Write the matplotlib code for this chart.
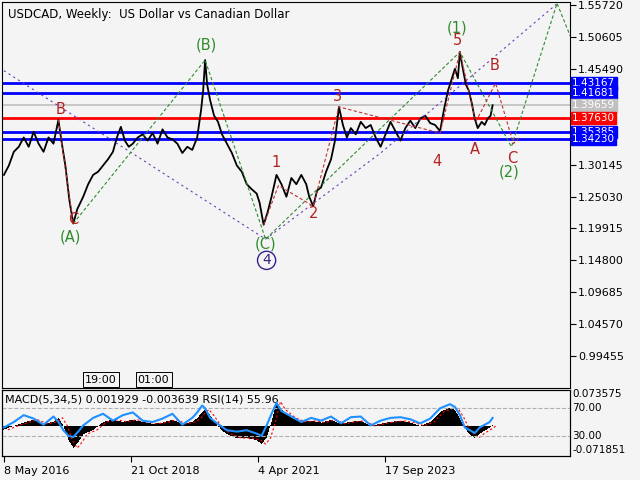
import matplotlib
matplotlib.use("Agg")
import matplotlib.pyplot as plt
import numpy as np

# price waypoints (week index from 8 May 2016, price)
px_weeks = [0,5,10,15,20,25,30,35,40,45,50,55,58,62,66,70,74,80,85,90,95,100,105,110,114,118,122,126,130,135,140,145,150,155,160,165,170,175,180,185,190,195,199,201,203,205,208,212,216,220,225,230,235,240,245,250,255,258,262,266,270,275,280,285,290,295,300,305,308,312,316,320,325,330,334,338,342,346,350,355,360,365,370,375,380,385,390,395,400,405,410,415,420,425,430,435,440,444,448,452,455,458,460,463,466,469,472,475,478,482,485,488,491,493]
px_vals = [1.285,1.300,1.322,1.330,1.345,1.330,1.354,1.335,1.322,1.345,1.335,1.373,1.340,1.300,1.245,1.207,1.230,1.250,1.270,1.285,1.290,1.300,1.310,1.322,1.345,1.362,1.340,1.330,1.335,1.345,1.350,1.340,1.352,1.335,1.358,1.345,1.342,1.335,1.320,1.330,1.325,1.345,1.390,1.420,1.469,1.430,1.405,1.380,1.370,1.350,1.335,1.320,1.300,1.290,1.270,1.262,1.255,1.240,1.205,1.225,1.250,1.285,1.270,1.250,1.280,1.270,1.285,1.270,1.250,1.235,1.260,1.265,1.290,1.310,1.340,1.394,1.365,1.345,1.360,1.350,1.370,1.360,1.365,1.345,1.330,1.350,1.370,1.355,1.340,1.360,1.372,1.360,1.375,1.380,1.368,1.365,1.355,1.390,1.420,1.440,1.455,1.440,1.482,1.455,1.430,1.420,1.400,1.375,1.360,1.370,1.365,1.375,1.380,1.3966]

h_levels = [1.43167, 1.41681, 1.39659, 1.37630, 1.35385, 1.34230]
h_colors = ["#0000ff", "#0000ff", "#c0c0c0", "#ff0000", "#0000ff", "#0000ff"]
y_ticks = [1.55720,1.50605,1.45490,1.30145,1.25030,1.19915,1.14800,1.09685,1.04570,0.99455]

green_x = [70,203,264,460,512,558,572]
green_y = [1.207,1.469,1.182,1.482,1.330,1.560,1.505]
red1_x = [55,70]; red1_y = [1.373,1.207]
red2_x = [262,277,312,338,440,460,476,496,514,520]
red2_y = [1.205,1.268,1.235,1.394,1.352,1.482,1.370,1.432,1.335,1.345]
purple_x = [0,264,380,560]
purple_y = [1.452,1.182,1.320,1.562]

wave_labels = [("(A)",67,1.185,"#2e8b2e"),("C",70,1.214,"#b22222"),("B",57,1.390,"#b22222"),
               ("(B)",204,1.493,"#2e8b2e"),("(C)",264,1.175,"#2e8b2e"),
               ("1",275,1.305,"#b22222"),("2",312,1.223,"#b22222"),("3",337,1.411,"#b22222"),
               ("4",437,1.306,"#b22222"),("5",458,1.500,"#b22222"),("(1)",457,1.521,"#2e8b2e"),
               ("A",475,1.325,"#b22222"),("B",495,1.460,"#b22222"),("C",513,1.312,"#b22222"),
               ("(2)",510,1.290,"#2e8b2e")]

ind_weeks = [0,10,20,30,40,50,55,60,65,70,75,80,90,100,110,120,130,140,150,160,170,180,190,195,200,203,208,215,225,235,245,255,260,265,270,275,280,290,300,310,320,330,340,350,360,370,380,390,400,410,420,430,440,450,455,460,465,470,475,480,485,490,493]
macd_vals = [-0.010,0.000,0.008,0.015,0.005,0.010,0.020,0.000,-0.035,-0.055,-0.040,-0.020,-0.010,0.010,0.015,0.010,0.015,0.010,0.005,0.008,0.015,0.005,0.010,0.020,0.035,0.040,0.025,0.000,-0.020,-0.030,-0.030,-0.035,-0.045,-0.030,0.010,0.060,0.040,0.020,0.010,0.012,0.008,0.015,0.005,0.010,0.012,0.000,0.005,0.010,0.012,0.008,0.000,0.010,0.035,0.045,0.040,0.020,-0.005,-0.020,-0.030,-0.020,-0.012,-0.005,0.002]
rsi_vals = [42,50,60,55,46,58,50,38,30,28,36,45,56,62,52,60,64,52,50,55,62,46,56,64,74,70,56,48,38,36,38,33,30,45,62,78,66,58,50,56,52,58,48,57,58,45,52,56,57,54,48,55,70,76,72,60,42,38,34,42,46,50,56]

date_ticks = [0,128,256,384]
date_labels = ["8 May 2016","21 Oct 2018","4 Apr 2021","17 Sep 2023"]

bg = "#f4f4f4"
fig = plt.figure(figsize=(6.4,4.8), dpi=100, facecolor=bg)
ax = fig.add_axes([0.003, 1-388/480, 568/640, 386/480], facecolor=bg)
xmax = 571
ax.set_xlim(-2, xmax)
ax.set_ylim(0.9434, 1.5621)
for lv, c in zip(h_levels, h_colors):
    ax.axhline(lv, color=c, lw=2 if c != "#c0c0c0" else 1.2, zorder=2)
ax.plot(px_weeks, px_vals, color="black", lw=1.3, zorder=3)
ax.plot(purple_x, purple_y, color="#6a3fb5", lw=0.8, ls=(0,(2,3)), zorder=4)
ax.plot(green_x, green_y, color="#2e8b2e", lw=0.8, ls=(0,(3,2)), zorder=4)
ax.plot(red1_x, red1_y, color="#c03030", lw=0.8, ls=(0,(3,2)), zorder=4)
ax.plot(red2_x, red2_y, color="#c03030", lw=0.8, ls=(0,(3,2)), zorder=4)
for t, x, y, c in wave_labels:
    ax.text(x, y, t, color=c, fontsize=10.5, ha="center", va="center", zorder=5)
ax.text(265, 1.148, "4", color="#3a1f8a", fontsize=10, ha="center", va="center",
        bbox=dict(boxstyle="circle,pad=0.15", fc="none", ec="#3a1f8a"))
ax.text(0.01, 0.985, "USDCAD, Weekly:  US Dollar vs Canadian Dollar", transform=ax.transAxes,
        fontsize=8.5, va="top", ha="left")
for t, x in [("19:00", 82), ("01:00", 135)]:
    ax.text(x, 0.957, t, fontsize=8, ha="left", va="center",
            bbox=dict(boxstyle="square,pad=0.2", fc=bg, ec="black", lw=0.7))
ax.yaxis.tick_right()
ax.set_yticks(y_ticks)
ax.set_yticklabels([f"{v:.5f}" for v in y_ticks], fontsize=8)
ax.tick_params(axis="y", length=4, pad=2)
ax.set_xticks([])
for lv, c in zip(h_levels, h_colors):
    ax.text(1.004, lv, f"{lv:.5f}", transform=ax.get_yaxis_transform(), fontsize=7.5,
            color="white", va="center", ha="left",
            bbox=dict(boxstyle="square,pad=0.12", fc=c, ec=c))

ax2 = fig.add_axes([0.003, 24/480, 568/640, 66/480], facecolor=bg)
ax2.set_xlim(-2, xmax)
ax2.set_ylim(-0.0745, 0.0885)
w = np.arange(0, 494)
m = np.interp(w, ind_weeks, macd_vals)
ax2.bar(w, m, width=1.0, color="black", zorder=2)
ax2.plot(w+4, m, color="red", lw=0.8, ls=(0,(2,2)), zorder=3)
ax2.set_yticks([])
ax2.set_xticks(date_ticks)
ax2.set_xticklabels(date_labels, fontsize=8, ha="left")
ax2.tick_params(axis="x", length=4)
ax3 = ax2.twinx()
ax3.set_xlim(-2, xmax)
ax3.set_ylim(0.4, 96.7)
ax3.axhline(70, color="#b0b0b0", lw=0.8, ls="--")
ax3.axhline(30, color="#b0b0b0", lw=0.8, ls="--")
ax3.plot(ind_weeks, rsi_vals, color="#1e90ff", lw=1.5, zorder=4)
ax3.set_yticks([])
yt = ax3.get_yaxis_transform()
ax3.text(1.004, 91, "0.073575", transform=yt, fontsize=7.5, va="center")
ax3.text(1.004, 70, "70.00", transform=yt, fontsize=7.5, va="center")
ax3.text(1.004, 30, "30.00", transform=yt, fontsize=7.5, va="center")
ax3.text(1.004, 9, "-0.071851", transform=yt, fontsize=7.5, va="center")
ax3.text(0.005, 0.93, "MACD(5,34,5) 0.001929 -0.003639 RSI(14) 55.96", transform=ax3.transAxes,
         fontsize=8, va="top")
fig.savefig("out.png", dpi=100, facecolor=bg)
